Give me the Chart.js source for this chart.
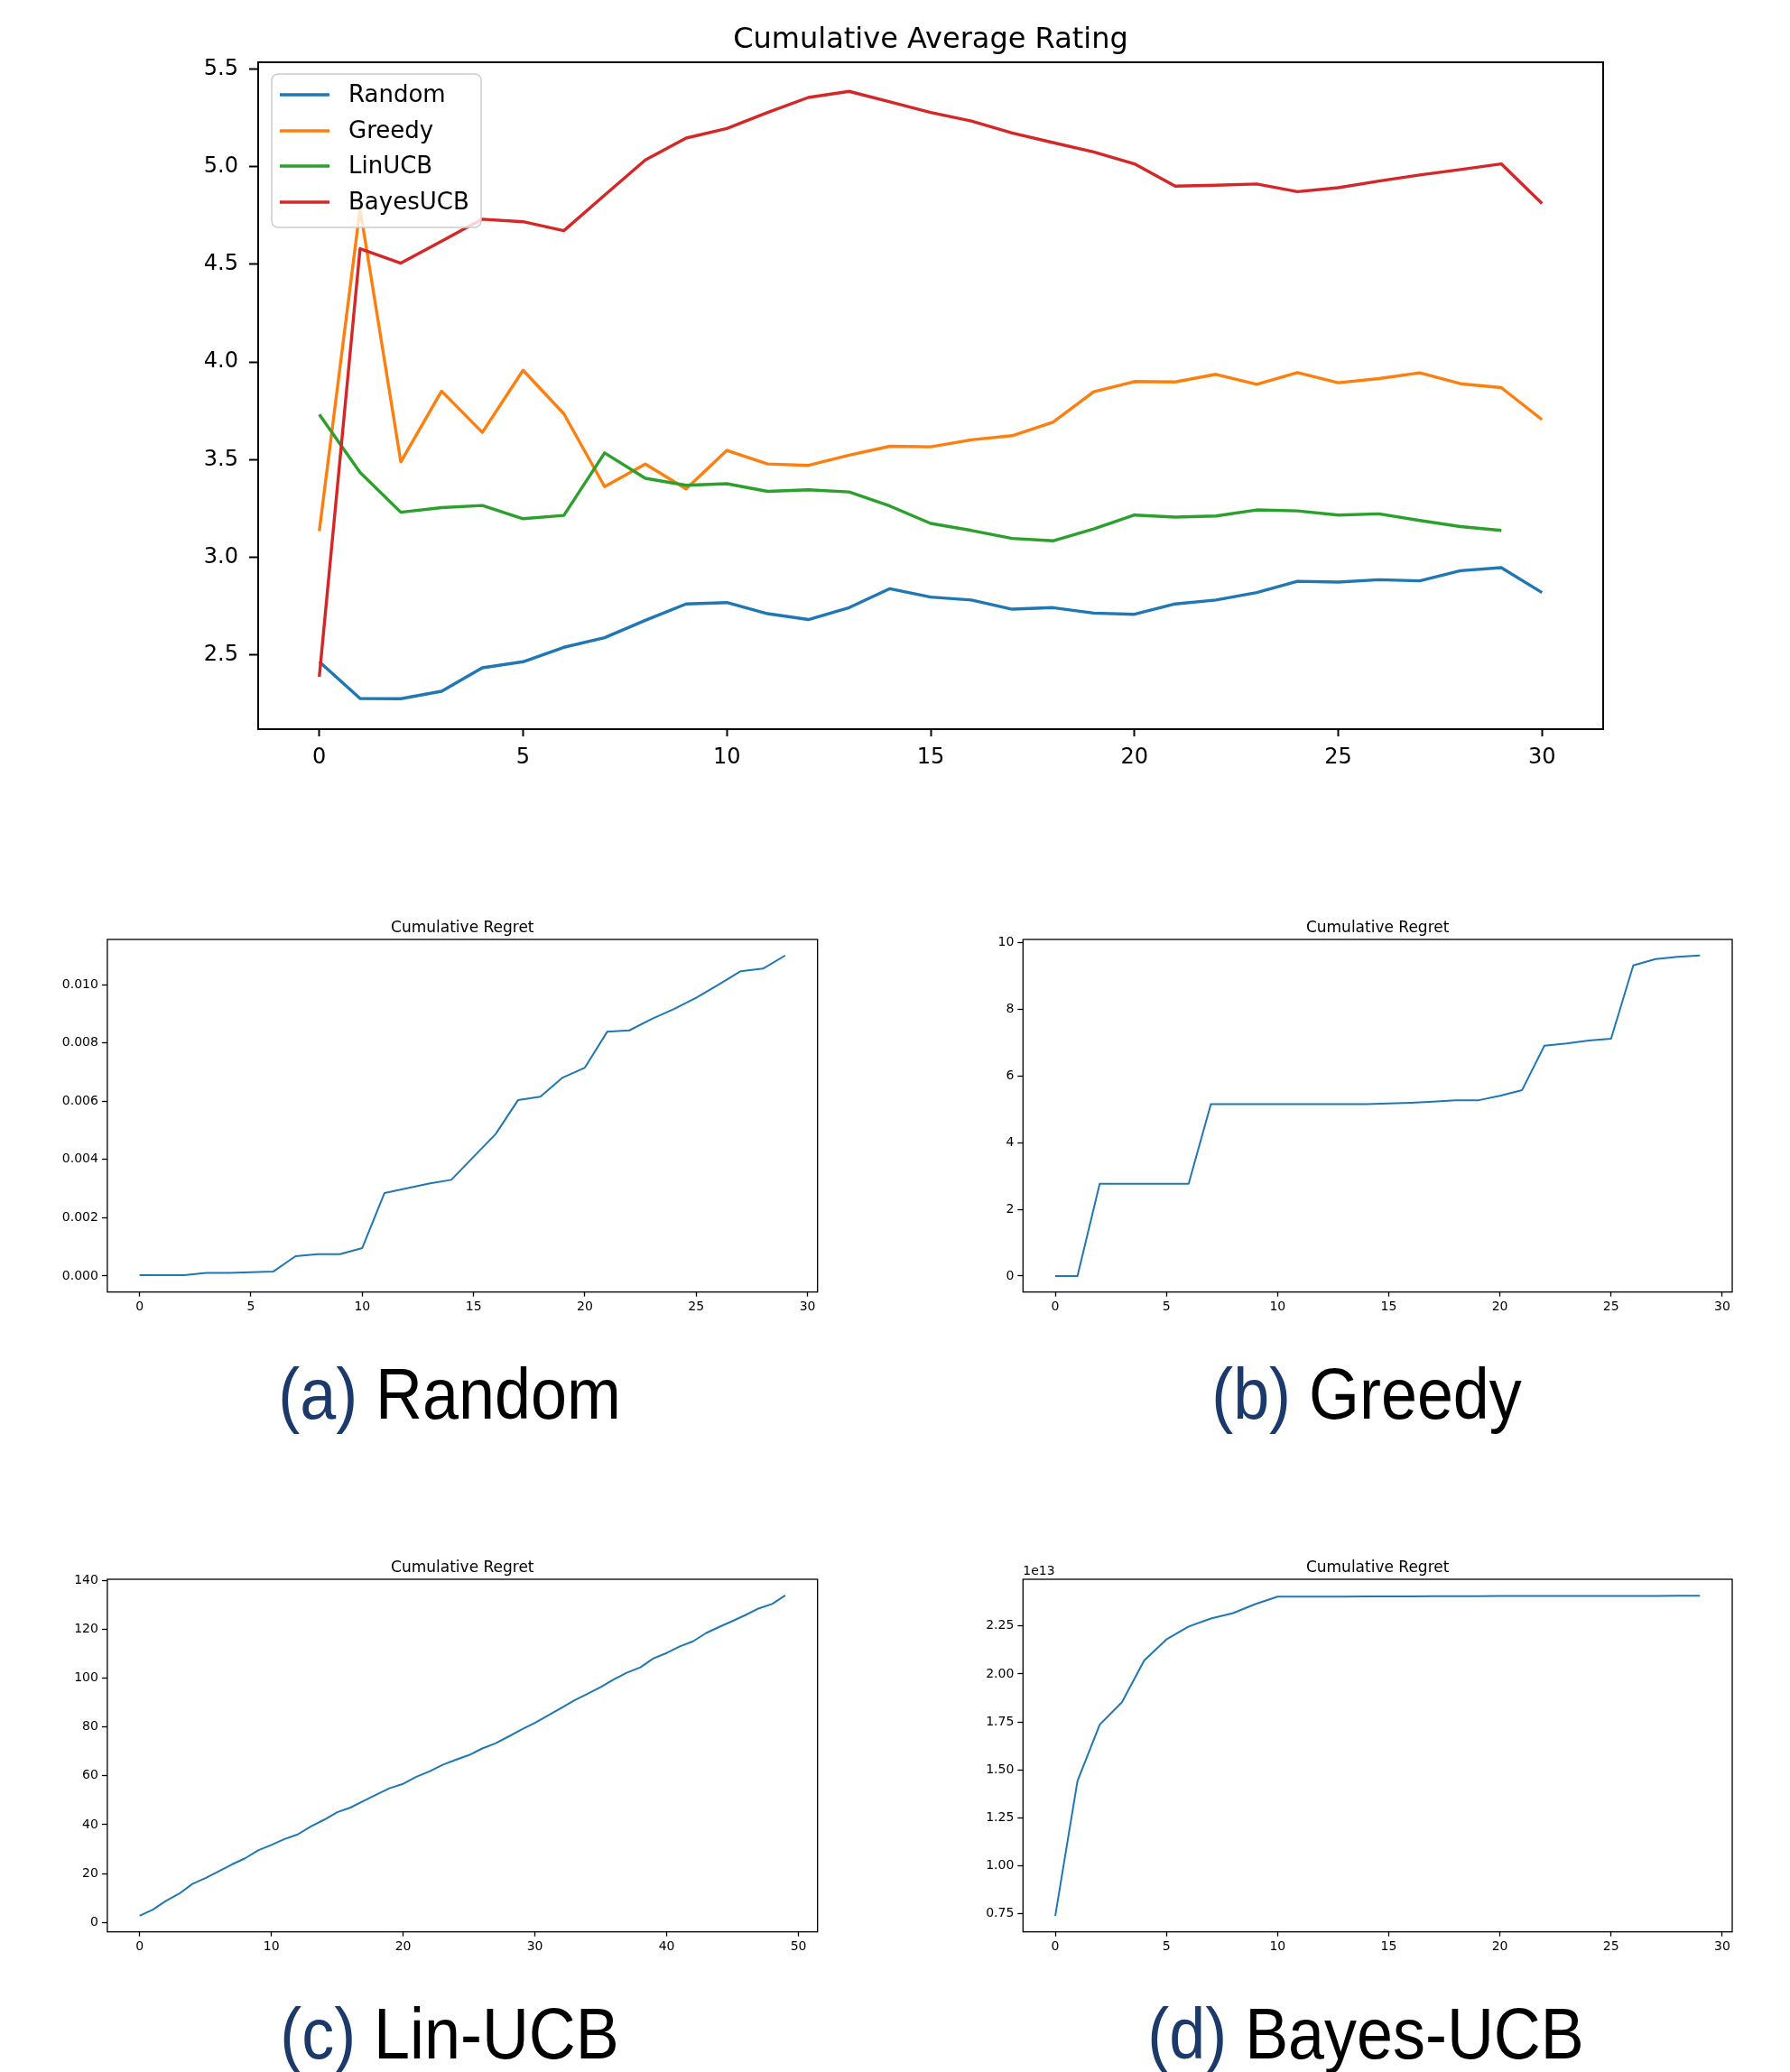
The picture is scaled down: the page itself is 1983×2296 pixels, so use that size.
<!DOCTYPE html>
<html><head><meta charset="utf-8">
<script src="https://cdn.jsdelivr.net/npm/chart.js@4.4.0/dist/chart.umd.min.js"></script>
<style>
html,body{margin:0;padding:0;background:#fff;}
body{width:1983px;height:2296px;position:relative;overflow:hidden;}
.box{position:absolute;}
.cap{position:absolute;width:800px;text-align:center;font-family:"Liberation Sans",sans-serif;font-size:79px;line-height:79px;color:#000;transform:scaleX(0.91);white-space:nowrap;}
.cap .lab{color:#1b3a6b;}
</style></head><body>
<div class="box" style="left:0;top:0;width:1983px;height:900px"><canvas id="cMain"></canvas></div>
<div class="box" style="left:0;top:1000px;width:990px;height:480px"><canvas id="cA"></canvas></div>
<div class="box" style="left:1000px;top:1000px;width:983px;height:480px"><canvas id="cB"></canvas></div>
<div class="box" style="left:0;top:1700px;width:990px;height:480px"><canvas id="cC"></canvas></div>
<div class="box" style="left:1000px;top:1700px;width:983px;height:480px"><canvas id="cD"></canvas></div>
<div class="cap" style="left:98px;top:1505px"><span class="lab">(a)</span> Random</div>
<div class="cap" style="left:1114px;top:1505px"><span class="lab">(b)</span> Greedy</div>
<div class="cap" style="left:98px;top:2214px"><span class="lab">(c)</span> Lin-UCB</div>
<div class="cap" style="left:1113px;top:2214px"><span class="lab">(d)</span> Bayes-UCB</div>
<script>
// ---------- data ----------
const steps = [0,1,2,3,4,5,6,7,8,9,10,11,12,13,14,15,16,17,18,19,20,21,22,23,24,25,26,27,28,29,30];
const linSteps = [0,1,2,3,4,5,6,7,8,9,10,11,12,13,14,15,16,17,18,19,20,21,22,23,24,25,26,27,28,29,30,31,32,33,34,35,36,37,38,39,40,41,42,43,44,45,46,47,48,49];
const seriesNames = ['Random','Greedy','LinUCB','BayesUCB'];
const randomAvg = [2.466,2.278,2.277,2.315,2.435,2.466,2.54,2.589,2.678,2.762,2.769,2.712,2.682,2.743,2.84,2.797,2.782,2.735,2.743,2.715,2.709,2.762,2.782,2.82,2.878,2.874,2.886,2.88,2.932,2.948,2.82];
const greedyAvg = [3.135,4.785,3.489,3.851,3.64,3.958,3.735,3.362,3.478,3.351,3.548,3.478,3.471,3.523,3.569,3.566,3.602,3.623,3.692,3.848,3.9,3.898,3.937,3.886,3.946,3.894,3.915,3.945,3.889,3.869,3.705];
const linucbAvg = [3.732,3.435,3.231,3.255,3.266,3.198,3.215,3.535,3.405,3.369,3.377,3.338,3.346,3.335,3.263,3.174,3.138,3.097,3.085,3.146,3.217,3.206,3.212,3.243,3.238,3.217,3.223,3.189,3.158,3.138];
const bayesAvg = [2.389,4.58,4.506,4.618,4.731,4.718,4.672,4.854,5.034,5.146,5.195,5.277,5.354,5.385,5.331,5.277,5.233,5.172,5.123,5.075,5.014,4.9,4.905,4.911,4.872,4.892,4.926,4.957,4.985,5.014,4.811];
const mainXTicks = [0,5,10,15,20,25,30];
const mainYTicks = [2.5,3.0,3.5,4.0,4.5,5.0,5.5];

const randomRegret = [0.00003,0.00003,0.00003,0.00011,0.00011,0.00013,0.00015,0.00068,0.00075,0.00075,0.00096,0.00285,0.00301,0.00317,0.0033,0.00409,0.00488,0.00604,0.00615,0.00681,0.00715,0.00838,0.00843,0.00882,0.00916,0.00955,0.0100,0.01046,0.01055,0.0110];
const greedyRegret = [0,0,2.77,2.77,2.77,2.77,2.77,5.16,5.16,5.16,5.16,5.16,5.16,5.16,5.16,5.18,5.2,5.23,5.27,5.27,5.41,5.58,6.91,6.98,7.07,7.12,9.32,9.51,9.58,9.62];
const linucbRegret = [2.7,5.2,8.8,11.7,15.7,18.1,20.9,23.7,26.2,29.5,31.7,34.1,36.0,39.3,42.0,45.1,47.0,49.7,52.4,55.0,56.7,59.6,61.8,64.5,66.6,68.5,71.2,73.3,76.1,79.0,81.7,84.7,87.8,90.9,93.6,96.4,99.5,102.3,104.4,108.1,110.3,113.0,115.1,118.5,121.0,123.4,125.9,128.6,130.4,133.9];
const bayesRegret = [0.739e13,1.442e13,1.736e13,1.853e13,2.07e13,2.18e13,2.247e13,2.289e13,2.317e13,2.364e13,2.403e13,2.403e13,2.403e13,2.403e13,2.404e13,2.404e13,2.404e13,2.405e13,2.405e13,2.405e13,2.406e13,2.406e13,2.406e13,2.406e13,2.407e13,2.407e13,2.407e13,2.407e13,2.408e13,2.408e13];
const regretTitle = 'Cumulative Regret';
const mainTitle = 'Cumulative Average Rating';
const xTicks30 = [0,5,10,15,20,25,30];
const xTicks50 = [0,10,20,30,40,50];
const yTicksRandom = [0,0.002,0.004,0.006,0.008,0.010];
const yTicksGreedy = [0,2,4,6,8,10];
const yTicksLin = [0,20,40,60,80,100,120,140];
const yTicksBayes = [0.75e13,1.0e13,1.25e13,1.5e13,1.75e13,2.0e13,2.25e13];

// ---------- helpers ----------
const FONT = '"DejaVu Sans", sans-serif';
const pts = (xs, ys) => ys.map((y, i) => ({x: xs[i], y}));

const framePlugin = {
  id: 'frame',
  afterDraw(chart, args, o) {
    const {ctx, chartArea: a} = chart;
    ctx.save();
    ctx.strokeStyle = '#000';
    ctx.lineWidth = o.width || 1;
    ctx.strokeRect(a.left, a.top, a.right - a.left, a.bottom - a.top);
    ctx.restore();
  }
};
const ptitlePlugin = {
  id: 'ptitle',
  afterDraw(chart, args, o) {
    const {ctx, chartArea: a} = chart;
    ctx.save();
    ctx.fillStyle = '#000';
    ctx.font = o.size + 'px ' + FONT;
    ctx.textAlign = 'center';
    ctx.textBaseline = 'alphabetic';
    ctx.fillText(o.text, (a.left + a.right) / 2, a.top - o.gap);
    if (o.offset) {
      ctx.font = o.offsetSize + 'px ' + FONT;
      ctx.textAlign = 'left';
      ctx.fillText(o.offset, a.left, a.top - 5);
    }
    ctx.restore();
  }
};
const legendPlugin = {
  id: 'boxlegend',
  afterDatasetsDraw(chart, args, o) {
    if (!o.show) return;
    const {ctx, chartArea: a} = chart;
    const x0 = a.left + 15, y0 = a.top + 13, w = 232, h = 170, r = 7;
    ctx.save();
    ctx.beginPath();
    ctx.moveTo(x0 + r, y0);
    ctx.arcTo(x0 + w, y0, x0 + w, y0 + h, r);
    ctx.arcTo(x0 + w, y0 + h, x0, y0 + h, r);
    ctx.arcTo(x0, y0 + h, x0, y0, r);
    ctx.arcTo(x0, y0, x0 + w, y0, r);
    ctx.closePath();
    ctx.fillStyle = 'rgba(255,255,255,0.8)';
    ctx.fill();
    ctx.strokeStyle = '#cccccc';
    ctx.lineWidth = 1.5;
    ctx.stroke();
    const offs = [23, 63, 102, 142];
    chart.data.datasets.forEach((ds, i) => {
      const y = y0 + offs[i];
      ctx.strokeStyle = ds.borderColor;
      ctx.lineWidth = ds.borderWidth;
      ctx.beginPath();
      ctx.moveTo(x0 + 9, y);
      ctx.lineTo(x0 + 64, y);
      ctx.stroke();
      ctx.fillStyle = '#000';
      ctx.font = '26px ' + FONT;
      ctx.textAlign = 'left';
      ctx.textBaseline = 'middle';
      ctx.fillText(ds.label, x0 + 85, y + 1);
    });
    ctx.restore();
  }
};

function axes(cfg) {
  const tickFont = {family: FONT, size: cfg.fontSize};
  return {
    x: {
      type: 'linear', min: cfg.xMin, max: cfg.xMax,
      afterBuildTicks: s => { s.ticks = cfg.xTicks.map(v => ({value: v})); },
      afterFit: s => { s.height = cfg.xH; },
      grid: {drawOnChartArea: false, drawTicks: true, tickLength: cfg.xTL, tickWidth: cfg.tw, tickColor: '#000'},
      border: {display: false},
      ticks: {font: tickFont, color: '#000', padding: cfg.xPad, maxRotation: 0, autoSkip: false,
        callback: v => String(v)}
    },
    y: {
      type: 'linear', min: cfg.yMin, max: cfg.yMax,
      afterBuildTicks: s => { s.ticks = cfg.yTicks.map(v => ({value: v})); },
      afterFit: s => { s.width = cfg.yW; },
      grid: {drawOnChartArea: false, drawTicks: true, tickLength: cfg.yTL, tickWidth: cfg.tw, tickColor: '#000'},
      border: {display: false},
      ticks: {font: tickFont, color: '#000', padding: cfg.yPad, autoSkip: false, callback: cfg.fmt}
    }
  };
}

Chart.defaults.animation = false;
Chart.defaults.responsive = true;
Chart.defaults.maintainAspectRatio = false;
Chart.defaults.devicePixelRatio = 1;

// ---------- main chart ----------
const mainColors = ['#1f77b4', '#ff7f0e', '#2ca02c', '#d62728'];
const mainSeries = [randomAvg, greedyAvg, linucbAvg, bayesAvg];
new Chart(document.getElementById('cMain'), {
  type: 'line',
  data: {
    datasets: mainSeries.map((vals, i) => ({
      label: seriesNames[i], data: pts(steps, vals),
      borderColor: mainColors[i], backgroundColor: mainColors[i],
      borderWidth: 3.4, pointRadius: 0, tension: 0, fill: false,
      borderJoinStyle: 'round', order: 3 - i
    }))
  },
  options: {
    layout: {padding: {left: 166, right: 207, top: 69, bottom: 22}},
    plugins: {
      legend: {display: false}, tooltip: {enabled: false}, title: {display: false},
      frame: {width: 2},
      ptitle: {text: mainTitle, size: 32, gap: 16},
      boxlegend: {show: true}
    },
    scales: axes({xMin: -1.5, xMax: 31.5, xTicks: mainXTicks, yMin: 2.121, yMax: 5.534, yTicks: mainYTicks,
      fmt: v => v.toFixed(1), fontSize: 24, xH: 70, yW: 120, xTL: 8, yTL: 10, tw: 2, xPad: 9, yPad: 12})
  },
  plugins: [framePlugin, ptitlePlugin, legendPlugin]
});

// ---------- regret charts ----------
function regretChart(id, xs, ys, cfg) {
  new Chart(document.getElementById(id), {
    type: 'line',
    data: {datasets: [{label: regretTitle, data: pts(xs, ys), borderColor: '#1f77b4', borderWidth: 2,
      pointRadius: 0, tension: 0, fill: false, borderJoinStyle: 'round'}]},
    options: {
      layout: {padding: cfg.pad},
      plugins: {
        legend: {display: false}, tooltip: {enabled: false}, title: {display: false},
        frame: {width: 1.3},
        ptitle: {text: regretTitle, size: 17, gap: 8, offset: cfg.offset, offsetSize: 14}
      },
      scales: axes(Object.assign({fontSize: 14, xH: 35, yW: 70, xTL: 5, yTL: 6, tw: 1.3, xPad: 3, yPad: 4}, cfg))
    },
    plugins: [framePlugin, ptitlePlugin]
  });
}

regretChart('cA', steps, randomRegret, {
  pad: {left: 48.9, right: 84.3, top: 41, bottom: 13.3},
  xMin: -1.45, xMax: 30.45, xTicks: xTicks30, yMin: -0.00055, yMax: 0.01155, yTicks: yTicksRandom,
  fmt: v => v.toFixed(3)
});
regretChart('cB', steps, greedyRegret, {
  pad: {left: 63.3, right: 64, top: 41, bottom: 13.3},
  xMin: -1.45, xMax: 30.45, xTicks: xTicks30, yMin: -0.48, yMax: 10.1, yTicks: yTicksGreedy,
  fmt: v => String(v)
});
regretChart('cC', linSteps, linucbRegret, {
  pad: {left: 48.9, right: 84.3, top: 50, bottom: 4.3},
  xMin: -2.45, xMax: 51.45, xTicks: xTicks50, yMin: -3.9, yMax: 140.5, yTicks: yTicksLin,
  fmt: v => String(v)
});
regretChart('cD', steps, bayesRegret, {
  pad: {left: 63.3, right: 64, top: 50, bottom: 4.3},
  xMin: -1.45, xMax: 30.45, xTicks: xTicks30, yMin: 0.6565e13, yMax: 2.4935e13, yTicks: yTicksBayes,
  fmt: v => (v / 1e13).toFixed(2), offset: '1e13'
});
</script>
</body></html>
